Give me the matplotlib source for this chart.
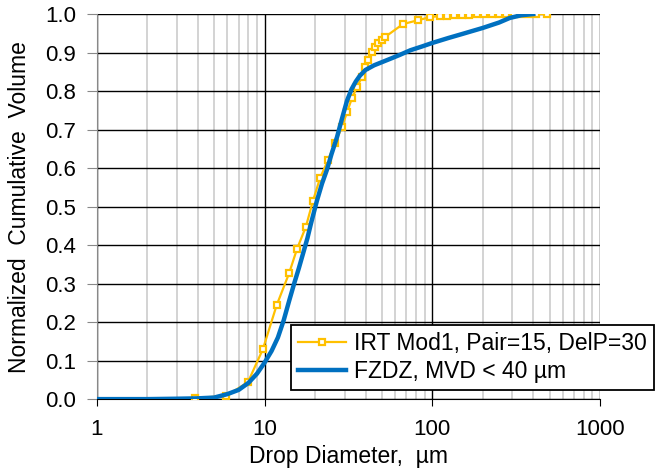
import matplotlib.pyplot as plt
from matplotlib.ticker import FixedLocator, FixedFormatter, LogLocator, NullFormatter

plt.rcParams['font.family'] = ['Liberation Sans Narrow', 'Liberation Sans', 'DejaVu Sans']

# IRT Mod1 spray, Pair=15, DelP=30
irt_d = [3.84, 5.88, 7.95, 9.77, 11.8, 14.0, 15.6, 17.6, 19.4, 21.4, 23.9, 26.3,
         28.9, 31.0, 33.2, 35.5, 38.0, 39.6, 41.3, 43.6, 45.5, 47.4, 50.0, 52.1,
         66.8, 82.1, 96.8, 111, 122, 135, 150, 166, 184, 204, 226, 250, 277, 307,
         340, 377, 418, 482]
irt_cum = [0.003, 0.008, 0.044, 0.13, 0.244, 0.327, 0.39, 0.447, 0.514, 0.574,
           0.621, 0.665, 0.706, 0.745, 0.782, 0.81, 0.836, 0.862, 0.881, 0.901,
           0.914, 0.925, 0.932, 0.94, 0.974, 0.984, 0.992, 0.995, 0.996, 0.997,
           0.998, 0.998, 0.999, 0.999, 1.0, 1.0, 1.0, 1.0, 1.0, 1.0, 1.0, 1.0]

# FZDZ reference distribution, MVD < 40 um
fzdz_d = [1.0, 2.0, 3.0, 4.0, 5.0, 6.0, 7.0, 8.0, 9.0, 10.0, 11.0, 12.0, 13.0,
          14.0, 15.0, 16.0, 17.0, 18.0, 19.0, 20.5, 22.0, 23.5, 25.0, 27.0, 29.0,
          31.0, 33.0, 35.0, 37.0, 40.0, 45.0, 50.0, 57.0, 64.0, 74.0, 87.0, 100.0,
          125.0, 150.0, 200.0, 250.0, 290.0, 340.0, 400.0]
fzdz_cum = [0.0, 0.0, 0.001, 0.002, 0.004, 0.013, 0.024, 0.042, 0.066, 0.095,
            0.125, 0.16, 0.205, 0.255, 0.3, 0.34, 0.38, 0.418, 0.46, 0.515, 0.56,
            0.595, 0.635, 0.68, 0.73, 0.775, 0.805, 0.825, 0.84, 0.855, 0.867,
            0.875, 0.885, 0.894, 0.906, 0.916, 0.925, 0.938, 0.948, 0.964, 0.978,
            0.99, 0.997, 1.0]

y_ticks = [0.0, 0.1, 0.2, 0.3, 0.4, 0.5, 0.6, 0.7, 0.8, 0.9, 1.0]
x_ticks = [1, 10, 100, 1000]
x_labels = ['1', '10', '100', '1000']

fig = plt.figure(figsize=(6.55, 4.69), dpi=100)
ax = fig.add_axes([0.148, 0.149, 0.768, 0.821])

ax.plot(irt_d, irt_cum, color='#FFC000', lw=1.6, marker='s', ms=4.5,
        mfc='white', mec='#FFC000', mew=1.6, label='IRT Mod1, Pair=15, DelP=30',
        zorder=3)
ax.plot(fzdz_d, fzdz_cum, color='#0070C0', lw=3.2, label='FZDZ, MVD < 40 µm',
        zorder=4)

ax.set_xscale('log')
ax.set_xlim(1, 1000)
ax.set_ylim(0, 1.0)
ax.xaxis.set_major_locator(FixedLocator(x_ticks))
ax.xaxis.set_major_formatter(FixedFormatter(x_labels))
ax.xaxis.set_minor_locator(LogLocator(base=10, subs=range(2, 10)))
ax.xaxis.set_minor_formatter(NullFormatter())
ax.set_yticks(y_ticks)
ax.set_yticklabels(['%.1f' % v for v in y_ticks])

ax.grid(which='major', axis='both', color='black', lw=1.0, zorder=0)
ax.grid(which='minor', axis='x', color='#d0d0d0', lw=1.3, zorder=0)
ax.set_axisbelow(True)
for s in ['top', 'right']:
    ax.spines[s].set_visible(False)
ax.spines['left'].set_color('#888888')
ax.spines['bottom'].set_color('black')
ax.tick_params(axis='y', which='major', length=7, color='#888888', labelsize=16, pad=8)
ax.tick_params(axis='x', which='major', length=5, color='black', labelsize=16, pad=9)
ax.tick_params(axis='x', which='minor', length=0)

ax.set_xlabel('Drop Diameter,  µm', fontsize=16.5, labelpad=4)
ax.set_ylabel('Normalized  Cumulative  Volume', fontsize=16.5, labelpad=10)

leg = ax.legend(loc='lower left', bbox_to_anchor=(0.386, 0.023), fontsize=16.5,
                frameon=True, fancybox=False, edgecolor='black', framealpha=1,
                handlelength=2.1, borderpad=0.3, labelspacing=0.25,
                handletextpad=0.35, borderaxespad=0)
leg.get_frame().set_linewidth(1.3)
leg.set_zorder(5)

fig.savefig('out.png', dpi=100)
